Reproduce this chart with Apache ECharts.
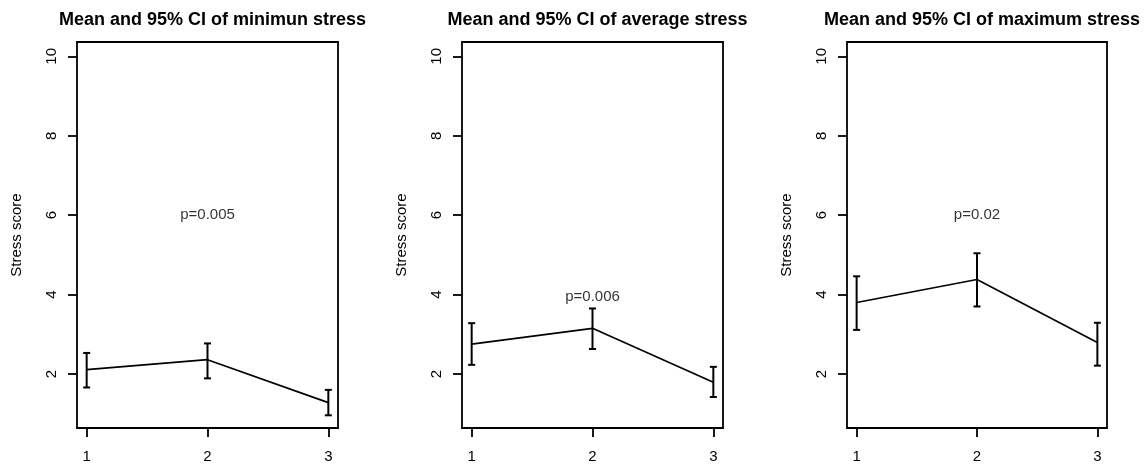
<!DOCTYPE html>
<html>
<head>
<meta charset="utf-8">
<script src="https://cdn.jsdelivr.net/npm/echarts@6/dist/echarts.min.js"></script>
<style>
  html, body { margin: 0; padding: 0; background: #fff; }
  #main { width: 1144px; height: 467px; }
</style>
</head>
<body>
<div id="main"></div>
<script>
var groups = [1, 2, 3];
var titles = [
    'Mean and 95% CI of minimun stress',
    'Mean and 95% CI of average stress',
    'Mean and 95% CI of maximum stress'
];
// means, lower and upper 95% CI per panel
var minMean = [2.11, 2.36, 1.28];
var minLow = [1.66, 1.89, 0.96];
var minHigh = [2.53, 2.77, 1.60];

var avgMean = [2.75, 3.15, 1.79];
var avgLow = [2.23, 2.63, 1.42];
var avgHigh = [3.28, 3.65, 2.18];

var maxMean = [3.80, 4.38, 2.79];
var maxLow = [3.11, 3.70, 2.21];
var maxHigh = [4.46, 5.04, 3.29];

var pTexts = ['p=0.005', 'p=0.006', 'p=0.02'];
var pX = [2, 2, 2];
var pY = [6.0, 3.95, 6.0];

var yTicks = [2, 4, 6, 8, 10];
var yLabel = 'Stress score';

var panels = [
    { mean: minMean, low: minLow, high: minHigh },
    { mean: avgMean, low: avgLow, high: avgHigh },
    { mean: maxMean, low: maxLow, high: maxHigh }
];
var gridLeft = [77, 462, 847];
var gridWidth = [261, 261, 260];

var myChart = echarts.init(document.getElementById('main'));
var font = '"Liberation Sans", Arial, sans-serif';

var grid = [], xAxis = [], yAxis = [], series = [], title = [];

panels.forEach(function(p, i) {
    grid.push({
        left: gridLeft[i],
        width: gridWidth[i],
        top: 42,
        height: 386,
        show: true,
        borderColor: '#000',
        borderWidth: 1.8,
        backgroundColor: 'transparent'
    });
    title.push({
        text: titles[i],
        left: gridLeft[i] + gridWidth[i] / 2,
        top: 6,
        textAlign: 'center',
        textStyle: { fontFamily: font, fontSize: 18, fontWeight: 'bold', color: '#000' }
    });
    xAxis.push({
        type: 'value',
        gridIndex: i,
        min: 0.92,
        max: 3.08,
        axisLine: { show: false },
        splitLine: { show: false },
        axisTick: { show: true, customValues: groups, length: 9, lineStyle: { color: '#000', width: 1.8 } },
        axisLabel: { customValues: groups, margin: 21, fontFamily: font, fontSize: 15, color: '#000' }
    });
    yAxis.push({
        type: 'value',
        gridIndex: i,
        min: 0.64,
        max: 10.36,
        name: yLabel,
        nameLocation: 'middle',
        nameRotate: 90,
        nameGap: 53,
        nameTextStyle: { fontFamily: font, fontSize: 15, color: '#000' },
        axisLine: { show: false },
        splitLine: { show: false },
        axisTick: { show: true, customValues: yTicks, length: 9, lineStyle: { color: '#000', width: 1.8 } },
        axisLabel: { customValues: yTicks, rotate: 90, margin: 18, fontFamily: font, fontSize: 15, color: '#000' }
    });
    series.push({
        type: 'line',
        xAxisIndex: i,
        yAxisIndex: i,
        showSymbol: false,
        symbol: 'none',
        lineStyle: { color: '#000', width: 1.7 },
        data: groups.map(function(g, k) { return [g, p.mean[k]]; })
    });
    series.push({
        type: 'custom',
        xAxisIndex: i,
        yAxisIndex: i,
        data: groups.map(function(g, k) { return [g, p.low[k], p.high[k]]; }),
        renderItem: function(params, api) {
            var lo = api.coord([api.value(0), api.value(1)]);
            var hi = api.coord([api.value(0), api.value(2)]);
            var w = 3.5;
            var st = { stroke: '#000', lineWidth: 2 };
            return {
                type: 'group',
                children: [
                    { type: 'line', shape: { x1: lo[0], y1: lo[1], x2: hi[0], y2: hi[1] }, style: st },
                    { type: 'line', shape: { x1: lo[0] - w, y1: lo[1], x2: lo[0] + w, y2: lo[1] }, style: st },
                    { type: 'line', shape: { x1: hi[0] - w, y1: hi[1], x2: hi[0] + w, y2: hi[1] }, style: st }
                ]
            };
        }
    });
    series.push({
        type: 'scatter',
        xAxisIndex: i,
        yAxisIndex: i,
        symbolSize: 0,
        silent: true,
        data: [[pX[i], pY[i]]],
        label: {
            show: true,
            position: 'inside',
            formatter: pTexts[i],
            fontFamily: font,
            fontSize: 15,
            color: '#000'
        }
    });
});

var option = {
    animation: false,
    backgroundColor: '#fff',
    title: title,
    grid: grid,
    xAxis: xAxis,
    yAxis: yAxis,
    series: series
};
myChart.setOption(option);
</script>
</body>
</html>
